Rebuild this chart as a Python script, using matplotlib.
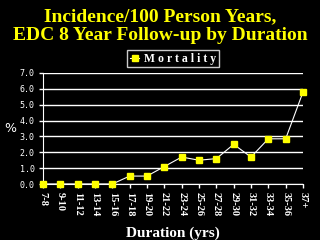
import numpy as np
from matplotlib import pyplot as plt

durations = ['7-8', '9-10', '11-12', '13-14', '15-16', '17-18', '19-20', '21-22',
             '23-24', '25-26', '27-28', '29-30', '31-32', '33-34', '35-36', '37+']
mortality = [0.0, 0.0, 0.0, 0.0, 0.0, 0.5, 0.5, 1.1,
             1.7, 1.5, 1.6, 2.5, 1.7, 2.85, 2.85, 5.8]

fig = plt.figure(figsize=(3.2, 2.4), dpi=100, facecolor='black')
ax = fig.add_axes([43/320, 1-184/240, 260/320, 111/240], facecolor='black')

x = np.arange(len(durations))
ax.plot(x, mortality, color='white', lw=0.8, marker='s', ms=5,
        mfc='yellow', mec='yellow', label='M o r t a l i t y', clip_on=False, zorder=3)

ax.set_xlim(0, len(durations) - 1)
ax.set_ylim(0, 7)
ax.set_yticks(np.arange(0, 8, 1))
ax.set_yticklabels(['%.1f' % v for v in np.arange(0, 8, 1)], fontsize=6,
                   color='white', family='DejaVu Sans Mono')
ax.set_xticks(x)
ax.set_xticklabels(durations, rotation=270, fontsize=7.5, color='white',
                   family='Liberation Serif', fontweight='bold')
ax.grid(axis='y', color='white', lw=1)
ax.set_axisbelow(True)
for s in ['top', 'right']:
    ax.spines[s].set_visible(False)
for s in ['left', 'bottom']:
    ax.spines[s].set_color('white')
ax.tick_params(colors='white', length=3, width=1, pad=3)

ax.set_ylabel('%', color='white', fontsize=9, rotation=0, labelpad=7, va='center')
ax.set_xlabel('Duration (yrs)', color='white', fontsize=11, family='Liberation Serif',
              fontweight='bold', labelpad=7)

leg = ax.legend(loc='lower center', bbox_to_anchor=(0.5, 1.0), frameon=True,
                facecolor='black', edgecolor='white', fontsize=8.5,
                handlelength=0.8, borderpad=0.2, handletextpad=0.4, fancybox=False)
leg.get_frame().set_linewidth(1)
for t in leg.get_texts():
    t.set_color('white')
    t.set_family('Liberation Serif')
    t.set_fontweight('bold')

fig.text(0.5, 0.965, 'Incidence/100 Person Years,\nEDC 8 Year Follow-up by Duration',
         ha='center', va='top', color='yellow', fontsize=14,
         family='Liberation Serif', fontweight='bold', linespacing=1.1)

plt.savefig('out.png', dpi=100, facecolor='black')
